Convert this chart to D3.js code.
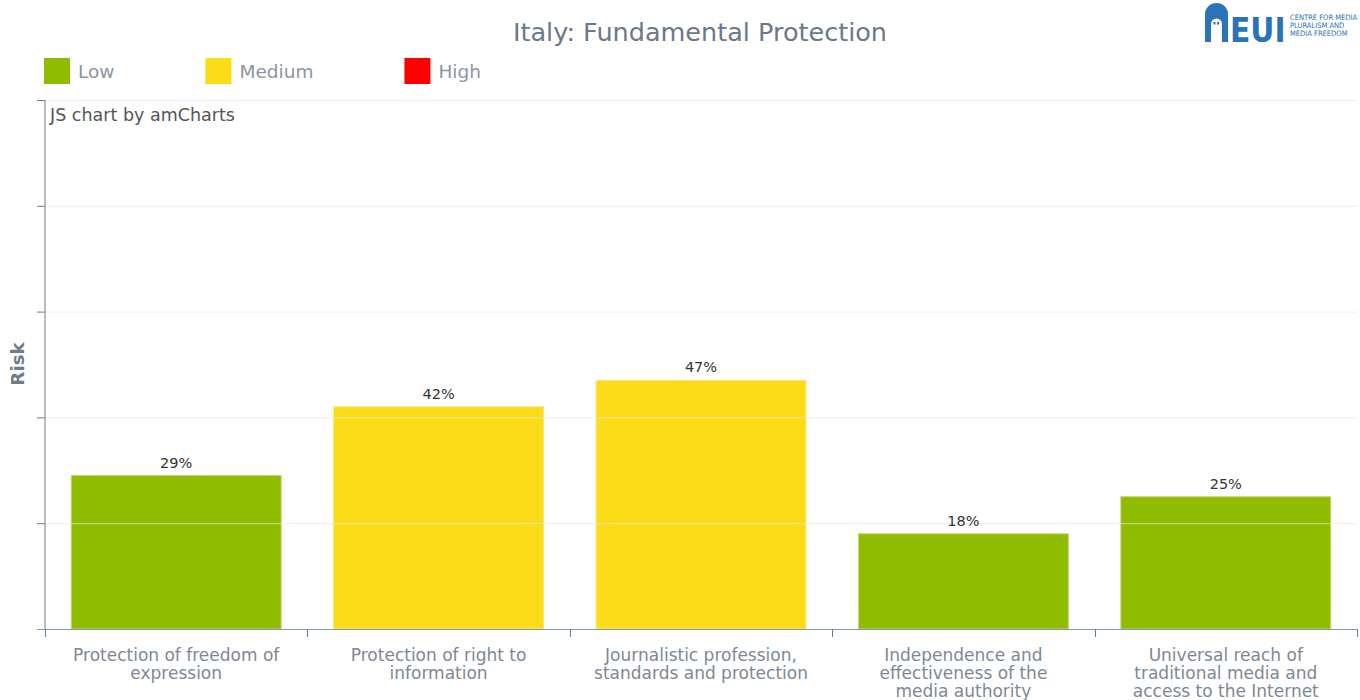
<!DOCTYPE html>
<html><head><meta charset="utf-8">
<script src="https://cdn.jsdelivr.net/npm/d3@7"></script>
<style>body{margin:0;background:#fff;}svg{display:block;font-family:"DejaVu Sans",Verdana,sans-serif;}</style>
</head><body><svg id="c" width="1360" height="700"></svg>
<script>
const categories = [
  ["Protection of freedom of","expression"],
  ["Protection of right to","information"],
  ["Journalistic profession,","standards and protection"],
  ["Independence and","effectiveness of the","media authority"],
  ["Universal reach of","traditional media and","access to the Internet"]
];
const values = [29, 42, 47, 18, 25];
const riskLevels = ["Low","Medium","Medium","Low","Low"];
const legendItems = ["Low","Medium","High"];
const legendColors = {Low:"#8fbb00", Medium:"#fcdb19", High:"#ff0000"};
const yTicks = [0,20,40,60,80,100];
const title = "Italy: Fundamental Protection";

const svg = d3.select("#c");
const m = {l:45, r:1357, t:100, b:629};
const x = d3.scaleBand().domain(d3.range(categories.length)).range([m.l, m.r]).paddingInner(0.2).paddingOuter(0.1);
const y = d3.scaleLinear().domain([0,100]).range([m.b, m.t]);

// title
svg.append("text").attr("x",700).attr("y",41).attr("text-anchor","middle")
  .attr("font-size",25.5).attr("fill","#6b7888").text(title);

// legend
let lx = 44;
legendItems.forEach(k=>{
  svg.append("rect").attr("x",lx).attr("y",58).attr("width",26).attr("height",26).attr("fill",legendColors[k]);
  const t = svg.append("text").attr("x",lx+34).attr("y",78).attr("font-size",18.5).attr("fill","#8a96a3").text(k);
  lx += t.node().getComputedTextLength() + 125;
});

// credit
svg.append("text").attr("x",50).attr("y",121).attr("font-size",17.5).attr("fill","#555").text("JS chart by amCharts");

// bars
svg.selectAll("rect.bar").data(values).join("rect").attr("class","bar")
  .attr("x",(d,i)=>x(i)).attr("width",x.bandwidth())
  .attr("y",d=>y(d)).attr("height",d=>y(0)-y(d))
  .attr("fill",(d,i)=>legendColors[riskLevels[i]])
  .attr("stroke",(d,i)=>riskLevels[i]==="Low"?"#c9d46a":"#fde67a").attr("stroke-width",1);

// gridlines on top
svg.append("g").selectAll("line").data(yTicks.slice(1)).join("line")
  .attr("x1",m.l).attr("x2",m.r).attr("y1",d=>y(d)+0.5).attr("y2",d=>y(d)+0.5)
  .attr("stroke","#e6e6e6").attr("stroke-opacity",0.7);

// value labels
svg.selectAll("text.val").data(values).join("text").attr("class","val")
  .attr("x",(d,i)=>x(i)+x.bandwidth()/2).attr("y",d=>y(d)-8).attr("text-anchor","middle")
  .attr("font-size",14.5).attr("fill","#333").text(d=>d+"%");

// y axis
const ya = svg.append("g").attr("transform",`translate(${m.l},0)`)
  .call(d3.axisLeft(y).tickValues(yTicks).tickSize(8).tickFormat(""));
ya.select(".domain").attr("stroke","#6f7d8b").attr("d",`M0,${m.t}V${m.b}`);
ya.selectAll(".tick line").attr("stroke","#6f7d8b");

// x axis
const boundaries = d3.range(categories.length+1).map(i=>m.l + i*(m.r-m.l)/categories.length);
const xa = svg.append("g");
xa.append("line").attr("x1",m.l-8).attr("x2",m.r).attr("y1",m.b+0.5).attr("y2",m.b+0.5).attr("stroke","#7a9cba");
xa.selectAll("line.tk").data(boundaries).join("line").attr("class","tk")
  .attr("x1",d=>Math.round(d)+0.5).attr("x2",d=>Math.round(d)+0.5).attr("y1",m.b).attr("y2",m.b+8).attr("stroke","#5f7f9c");

// category labels
categories.forEach((lines,i)=>{
  const t = svg.append("text").attr("text-anchor","middle").attr("font-size",17).attr("fill","#7d8893");
  lines.forEach((ln,j)=>t.append("tspan").attr("x",x(i)+x.bandwidth()/2).attr("y",661+j*18).text(ln));
});

// y label
svg.append("text").attr("transform","translate(24,364) rotate(-90)").attr("text-anchor","middle")
  .attr("font-size",18.3).attr("font-weight","bold").attr("fill","#6f7d8b").text("Risk");

// logo
const blue = "#2a73b8";
const lg = svg.append("g").attr("transform","translate(1205,0)");
lg.append("path").attr("d","M0,42 V14 A11.5,11 0 0 1 23,14 V42 H17 V24 A5.5,5.5 0 0 0 6,24 V42 Z").attr("fill",blue);
lg.append("rect").attr("x",8.5).attr("y",22).attr("width",2).attr("height",2.5).attr("fill",blue);
lg.append("rect").attr("x",12).attr("y",22).attr("width",2).attr("height",2.5).attr("fill",blue);
lg.append("text").attr("x",25).attr("y",42).attr("font-size",33).attr("font-weight","bold")
  .attr("font-family","'Liberation Sans Narrow','DejaVu Sans Condensed',sans-serif").attr("fill",blue).text("EUI");
["CENTRE FOR MEDIA","PLURALISM AND","MEDIA FREEDOM"].forEach((s,j)=>
  lg.append("text").attr("x",85).attr("y",20+j*8).attr("font-size",7.5)
    .attr("font-family","'DejaVu Sans Condensed',sans-serif").attr("fill",blue).text(s));
</script></body></html>
